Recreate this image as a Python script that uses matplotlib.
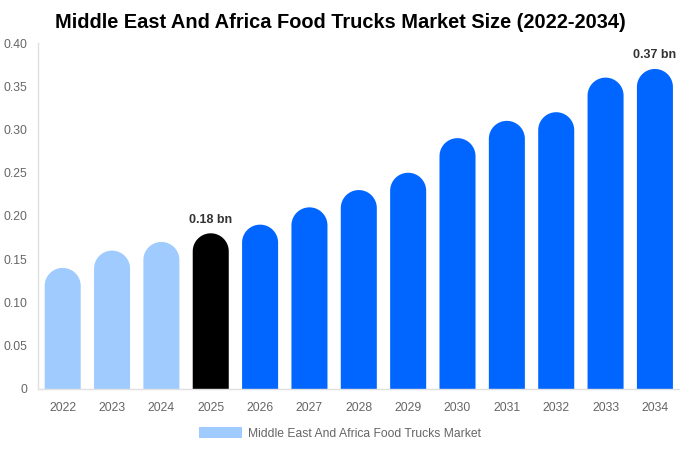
import matplotlib
matplotlib.use("Agg")
import numpy as np
import matplotlib.pyplot as plt
from matplotlib.patches import Polygon, Patch

plt.rcParams['font.family'] = ['Liberation Sans', 'DejaVu Sans']

years = ["2022", "2023", "2024", "2025", "2026", "2027", "2028", "2029", "2030", "2031", "2032", "2033", "2034"]
values = [0.14, 0.16, 0.17, 0.18, 0.19, 0.21, 0.23, 0.25, 0.29, 0.31, 0.32, 0.36, 0.37]
colors = ["#a0cbfe"] * 3 + ["#000000"] + ["#0066ff"] * 9
yticks = [0, 0.05, 0.10, 0.15, 0.20, 0.25, 0.30, 0.35, 0.40]
ytick_labels = ["0", "0.05", "0.10", "0.15", "0.20", "0.25", "0.30", "0.35", "0.40"]
annotated = {3: "0.18 bn", 12: "0.37 bn"}
title = "Middle East And Africa Food Trucks Market Size (2022-2034)"
legend_label = "Middle East And Africa Food Trucks Market"

fig = plt.figure(figsize=(6.8, 4.5), dpi=100)
ax = fig.add_axes([0.0559, 0.1356, 0.9435, 0.7688])
ax.set_xlim(-0.5, len(years) - 0.5)
ax.set_ylim(0, 0.40)

w = 0.73
fig.canvas.draw()
bbox = ax.get_window_extent()
px_per_x = bbox.width / (len(years))
px_per_y = bbox.height / 0.40
r_px = w / 2 * px_per_x
ry = r_px / px_per_y

theta = np.linspace(0, np.pi, 60)
for i, (v, c) in enumerate(zip(values, colors)):
    cx = i
    cy = v - ry
    arc_x = cx + (w / 2) * np.cos(theta)
    arc_y = cy + ry * np.sin(theta)
    xs = np.concatenate([[cx + w / 2], arc_x, [cx - w / 2]])
    ys = np.concatenate([[0], arc_y, [0]])
    ax.add_patch(Polygon(np.column_stack([xs, ys]), closed=True, facecolor=c,
                         edgecolor='none', linewidth=0))

for i, txt in annotated.items():
    ax.annotate(txt, (i, values[i]), xytext=(0, 5.5), textcoords='offset points',
                ha='center', va='bottom', fontsize=9, fontweight='bold', color='#333333')

ax.set_xticks(range(len(years)))
ax.set_xticklabels(years)
ax.set_yticks(yticks)
ax.set_yticklabels(ytick_labels)
ax.tick_params(axis='both', length=0, labelsize=8.8, labelcolor='#666666')
ax.tick_params(axis='x', pad=9.5)
ax.tick_params(axis='y', pad=7.5)
for s in ['top', 'right']:
    ax.spines[s].set_visible(False)
for s in ['left', 'bottom']:
    ax.spines[s].set_color('#e0e0e0')
    ax.spines[s].set_linewidth(1)

fig.suptitle(title, x=0.5, y=0.972, fontsize=14.4, fontweight='bold', color='#000000')

leg = fig.legend(handles=[Patch(facecolor="#a0cbfe", edgecolor='none', label=legend_label)],
                 loc='center', bbox_to_anchor=(0.5, 0.037), frameon=False, fontsize=8.7,
                 handlelength=3.5, handleheight=1.0, handletextpad=0.5)
for t in leg.get_texts():
    t.set_color('#666666')

fig.savefig("out.png", dpi=100)
